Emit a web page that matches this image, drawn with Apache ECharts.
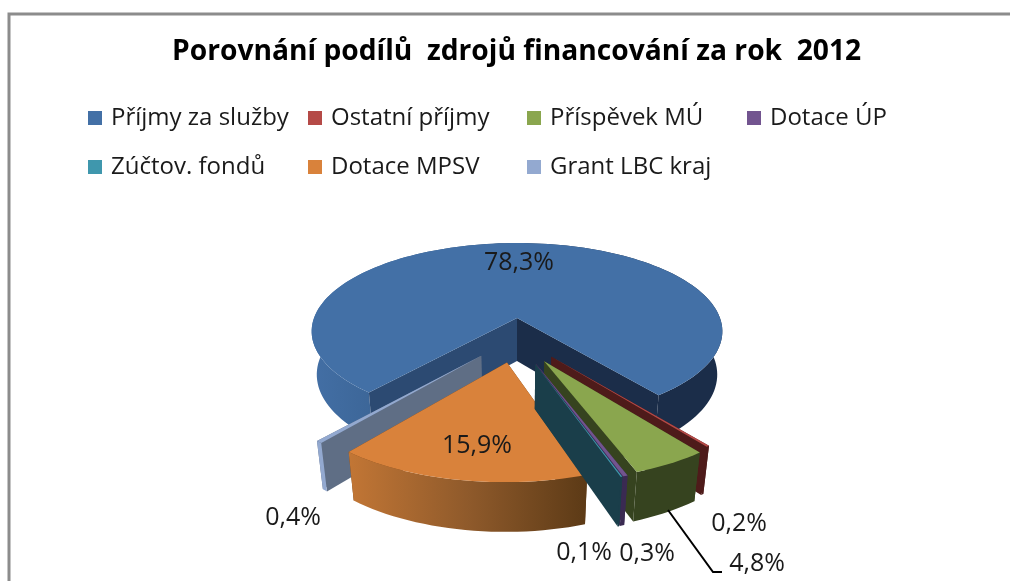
<!DOCTYPE html>
<html><head><meta charset="utf-8">
<style>html,body{margin:0;padding:0;background:#fff}#c{width:1010px;height:581px}</style>
<script src="https://cdn.jsdelivr.net/npm/echarts@6/dist/echarts.min.js"></script>
</head><body><div id="c"></div>
<script>
const titleText = 'Porovnání podílů  zdrojů financování za rok  2012';
const categories = ['Příjmy za služby','Ostatní příjmy','Příspěvek MÚ','Dotace ÚP','Zúčtov. fondů','Dotace MPSV','Grant LBC kraj'];
const shares = [78.3,0.2,4.8,0.3,0.1,15.9,0.4];

const topColors   = ['#4370a6','#b54a47','#8aa64e','#72548f','#3f97ad','#d9823b','#93a9d0'];
const wallColors  = ['#1b2d49','#4e1b1a','#36431f','#3a2a52','#1a3e4a','#6a3f18','#5f6e85'];
const outerStops  = [
  [[0,'#436fa5'],[0.25,'#38608f'],[0.55,'#223a5c'],[0.72,'#1b2d49'],[1,'#1b2d49']],
  [[0,'#4e1b1a'],[1,'#4e1b1a']],
  [[0,'#36431f'],[1,'#36431f']],
  [[0,'#3a2a52'],[1,'#3a2a52']],
  [[0,'#1a3e4a'],[1,'#1a3e4a']],
  [[0,'#c27635'],[0.5,'#8f5a2b'],[1,'#5c3a16']],
  [[0,'#93a9d0'],[1,'#93a9d0']]
];
const labelAt = [[519,263],[739,524],[757,564],[647,554],[584,553],[477,446],[293,518]];
const drawOrder = [0,6,5,1,2,3,4];
const pullY = [0,0.53,0.53,0.52,0.52,0.485,0.53];
const pullX = [0,0.26,0.26,0.26,0.26,0.26,0.26];

// projection of the tilted disc
const P = {cx:517, cy:318, R:203, Rt:86.3, p:0.151, q:0.025, H:44, start:-139.8};
function project(x,y,z){
  const w = 1 + P.p*y + P.q*z;
  return [P.cx + P.R*x/w, P.cy + (-P.Rt*y + P.H*z)/w];
}
const total = shares.reduce((a,b)=>a+b,0);
const spans = [];
let acc = P.start;
shares.forEach(v=>{ const d=v/total*360; spans.push([acc,acc+d]); acc+=d; });

function slicePieces(i){
  const rad = a=>a*Math.PI/180;
  const [a0,a1] = spans[i];
  const mid = rad((a0+a1)/2);
  const ox = pullX[i]*Math.sin(mid);
  const oy = pullY[i]*Math.cos(mid);
  const pt = (a,r,z)=>project(ox+r*Math.sin(rad(a)), oy+r*Math.cos(rad(a)), z);
  const n = Math.max(2, Math.ceil((a1-a0)/2));
  const topArc=[], botArc=[];
  for(let k=0;k<=n;k++){
    const a=a0+(a1-a0)*k/n;
    topArc.push(pt(a,1,0)); botArc.push(pt(a,1,1));
  }
  const apexT=pt(a0,0,0), apexB=pt(a0,0,1);
  const wall=(a,fill)=>({type:'polygon',silent:true,shape:{points:[apexT,pt(a,1,0),pt(a,1,1),apexB]},style:{fill}});
  const outer={type:'polygon',silent:true,shape:{points:topArc.concat(botArc.slice().reverse())},
    style:{fill:new echarts.graphic.LinearGradient(0,0,1,0,outerStops[i].map(s=>({offset:s[0],color:s[1]})))}};
  const top={type:'polygon',silent:true,shape:{points:[apexT].concat(topArc)},style:{fill:topColors[i]}};
  const w0=wall(a0,i===0?'#2c4a72':wallColors[i]), w1=wall(a1,wallColors[i]);
  return i===0 ? [outer,w0,w1,top] : [w0,w1,outer,top];
}
const labelFont='400 25px "Open Sans"';
const series = categories.map((name,i)=>({
  type:'custom', name, coordinateSystem:'none', z:drawOrder.indexOf(i)+2,
  itemStyle:{color:topColors[i]},
  data:[[shares[i]]],
  renderItem(){
    return {type:'group',children:slicePieces(i)};
  }
}));
// data labels and the leader line sit above every slice
series.push({
  type:'custom', name:'labels', coordinateSystem:'none', z:20, data:shares.map((v,i)=>[v,i]),
  renderItem(params,api){
    const i=api.value(1);
    const text=shares[i].toFixed(1).replace('.',',')+'%';
    const kids=[{type:'text',silent:true,style:{text,x:labelAt[i][0],y:labelAt[i][1],font:labelFont,fill:'#1a1a1a',align:'center',verticalAlign:'middle'}}];
    if(i===2) kids.push({type:'polyline',silent:true,shape:{points:[[668,510],[713,572],[722,572]]},style:{stroke:'#000',lineWidth:2,fill:null}});
    return {type:'group',children:kids};
  }
});
const legendCol=(left,names)=>({
  left, top:101, orient:'vertical', itemGap:25, itemWidth:14, itemHeight:14, icon:'rect', selectedMode:false,
  data:names, textStyle:{fontFamily:'Open Sans',fontSize:24,color:'#1a1a1a',padding:[0,0,0,4]}
});
const chart=echarts.init(document.getElementById('c'),null,{renderer:'canvas'});
chart.setOption({
  animation:false, backgroundColor:'#fff',
  title:{text:titleText,left:167,top:33,textStyle:{fontFamily:'Open Sans',fontWeight:700,fontSize:28.2,color:'#000'}},
  legend:[
    legendCol(83,[categories[0],categories[4]]),
    legendCol(303,[categories[1],categories[5]]),
    legendCol(522,[categories[2],categories[6]]),
    legendCol(742,[categories[3]])
  ],
  graphic:[
    {type:'polyline',silent:true,shape:{points:[[9,581],[9,14],[1010,14]]},style:{stroke:'#8c8c8c',lineWidth:3,fill:null}}
  ],
  series
});
</script></body></html>
